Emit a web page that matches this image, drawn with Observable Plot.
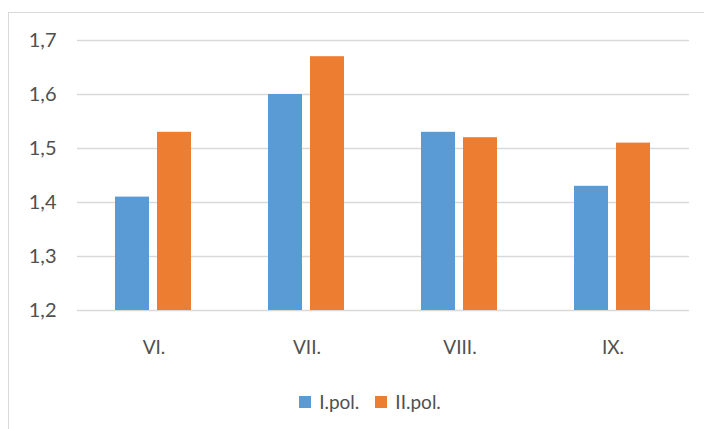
<!DOCTYPE html>
<html>
<head>
<meta charset="utf-8">
<script src="https://cdn.jsdelivr.net/npm/d3@7"></script>
<script src="https://cdn.jsdelivr.net/npm/@observablehq/plot@0.6"></script>
<style>
  html, body { margin: 0; padding: 0; background: #fff; }
  body { width: 704px; height: 429px; position: relative; overflow: hidden; font-family: Lato, "Open Sans", sans-serif; }
  #frame { position: absolute; left: 8px; top: 12px; width: 720px; height: 440px; border: 1px solid #d9d9d9; box-sizing: border-box; }
  #chart { position: absolute; left: 0; top: 0; }
  #legend { position: absolute; left: 0; top: 390px; width: 740px; display: flex; justify-content: center; align-items: center; gap: 16px; font-size: 19px; color: #505050; }
  .item { display: flex; align-items: center; gap: 8px; }
  .sw { width: 12px; height: 12px; display: inline-block; }
</style>
</head>
<body>
<div id="frame"></div>
<div id="chart"></div>
<div id="legend"></div>
<script>
const categories = ["VI.", "VII.", "VIII.", "IX."];
const seriesNames = ["I.pol.", "II.pol."];
const seriesI = [1.41, 1.60, 1.53, 1.43];
const seriesII = [1.53, 1.67, 1.52, 1.51];
const colors = ["#5B9BD5", "#ED7D31"];
const yTicks = [1.2, 1.3, 1.4, 1.5, 1.6, 1.7];

const data = [];
categories.forEach((c, i) => {
  data.push({month: c, series: seriesNames[0], value: seriesI[i]});
  data.push({month: c, series: seriesNames[1], value: seriesII[i]});
});

const fmt = d => d.toFixed(1).replace(".", ",");

const chart = Plot.plot({
  width: 704,
  height: 375,
  marginTop: 40,
  marginBottom: 65,
  marginLeft: 75,
  marginRight: 14,
  style: {fontFamily: "Lato, 'Open Sans', sans-serif", fontSize: "19px", color: "#505050", background: "transparent"},
  fx: {domain: categories, padding: 0, label: null, axis: "bottom", tickSize: 0, tickPadding: 30},
  x: {domain: seriesNames, axis: null, paddingInner: 0.18, paddingOuter: 0.9},
  y: {domain: [1.2, 1.7], ticks: yTicks, tickFormat: fmt, tickSize: 0, tickPadding: 21, label: null},
  color: {domain: seriesNames, range: colors},
  marks: [
    Plot.ruleY(yTicks, {stroke: "#d9d9d9", strokeWidth: 1.5}),
    Plot.barY(data, {fx: "month", x: "series", y1: 1.2, y2: "value", fill: "series", inset: 0})
  ]
});
chart.querySelectorAll("[aria-label='y-axis tick label'] text, g[aria-label='y-axis tick label']").forEach(el => el.style.fontSize = "20px");
document.getElementById("chart").appendChild(chart);

const legend = document.getElementById("legend");
seriesNames.forEach((s, i) => {
  const item = document.createElement("span");
  item.className = "item";
  const sw = document.createElement("span");
  sw.className = "sw";
  sw.style.background = colors[i];
  item.appendChild(sw);
  item.appendChild(document.createTextNode(s));
  legend.appendChild(item);
});
</script>
</body>
</html>
